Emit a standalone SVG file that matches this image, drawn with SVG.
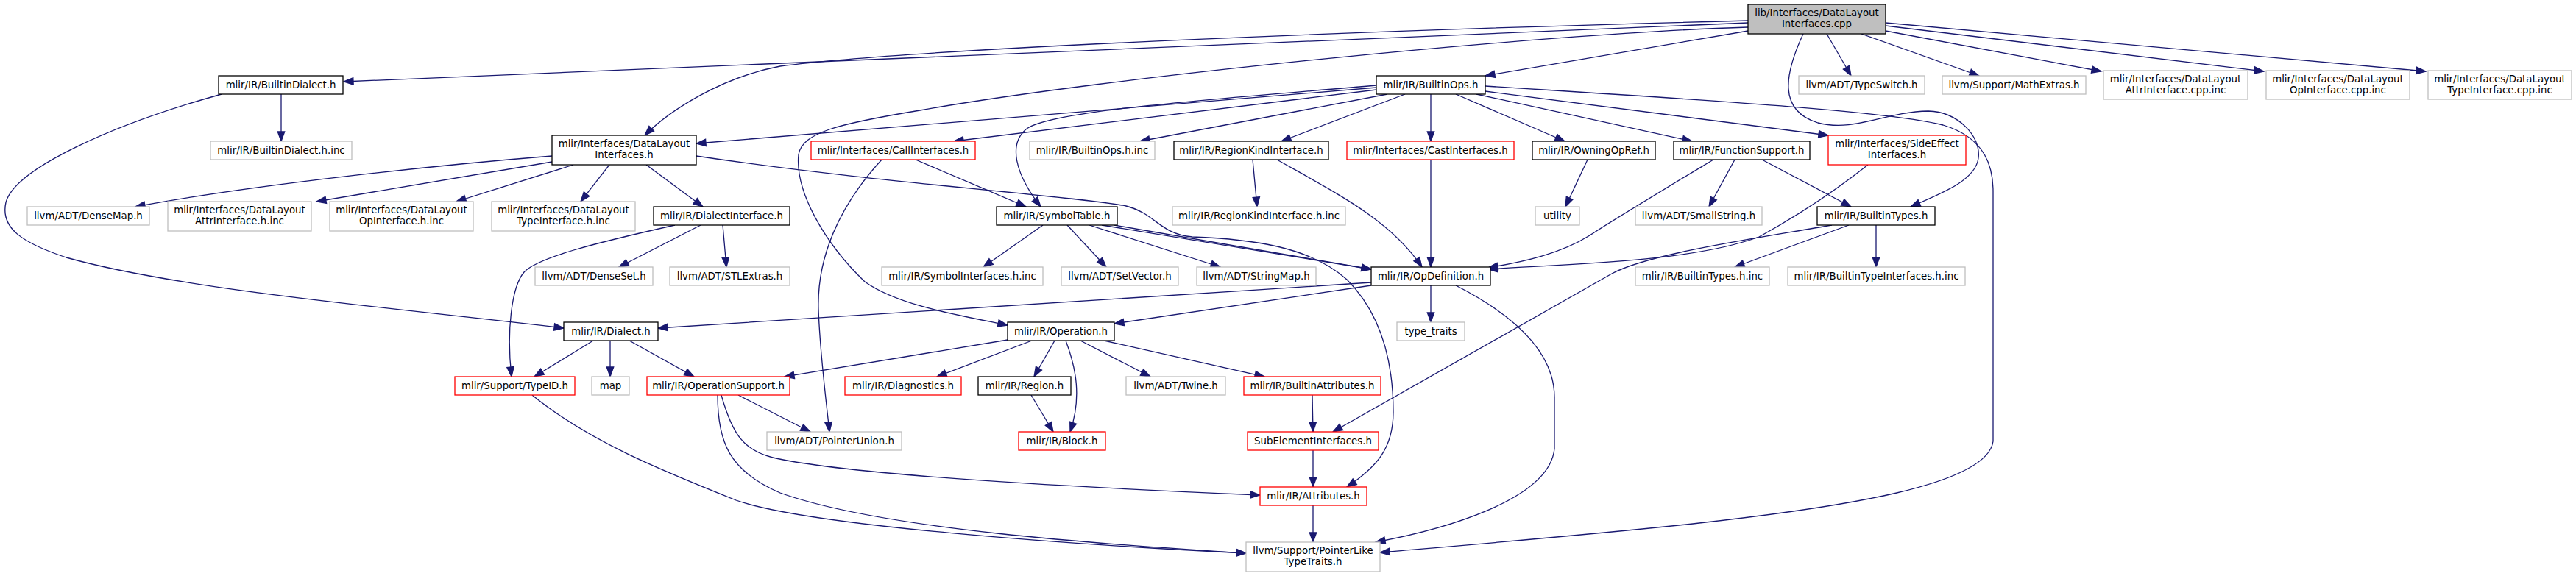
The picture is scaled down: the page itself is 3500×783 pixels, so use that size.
<svg xmlns="http://www.w3.org/2000/svg" width="3500" height="783" viewBox="0 0 3500 783">
<style>
.n rect{fill:#fff;stroke:#000;stroke-width:1.3}
.g rect{stroke:#bfbfbf}
.r rect{stroke:#ff0000}
.root rect{fill:#bfbfbf}
text{font-family:"DejaVu Sans","Liberation Sans",sans-serif;font-size:13.33px;text-anchor:middle;fill:#000}
.e path{fill:none;stroke:#191970;stroke-width:1.3;marker-end:url(#a)}
</style>
<defs>
<marker id="a" markerUnits="userSpaceOnUse" markerWidth="14" markerHeight="10" refX="13" refY="4.7" orient="auto" overflow="visible">
<path d="M0,0 L13,4.7 L0,9.4z" fill="#191970" stroke="#191970" stroke-width="1.3"/>
</marker>
</defs>
<rect width="3500" height="783" fill="#fff"/>
<g class="e" id="edges">
<path d="M2375,31 L467,111"/>
<path d="M2375,28 C1900,40 1250,65 1060,90 C980,105 910,150 876,184"/>
<path d="M2375,42 L2018,103"/>
<path d="M2375,37 C2100,45 1500,105 1250,150 C1140,168 1090,180 1085,210 C1080,260 1120,330 1175,383 C1220,415 1300,428 1369,442"/>
<path d="M2482,46 L2515,103"/>
<path d="M2529,46 L2689,103"/>
<path d="M2562,42 L2855,97"/>
<path d="M2562,35 L3076,97"/>
<path d="M2562,31 L3296,97"/>
<path d="M2450,46 C2425,100 2415,150 2470,167 C2520,180 2560,152 2620,151 C2660,152 2692,185 2688,215 C2684,245 2640,262 2596,281"/>
<path d="M1870,119 L946,195"/>
<path d="M1870,122 L1296,192"/>
<path d="M1870,116 C1650,135 1430,150 1395,175 C1370,195 1378,235 1414,281"/>
<path d="M1885,128 L1549,192"/>
<path d="M1909,128 L1741,192"/>
<path d="M1944,128 L1944,192"/>
<path d="M1978,128 L2126,192"/>
<path d="M2006,128 L2299,192"/>
<path d="M2018,124 L2484,184"/>
<path d="M2018,117 C2300,135 2560,150 2640,170 C2700,188 2708,230 2708,260 L2708,600 C2700,660 2500,690 2300,712 C2150,728 1980,742 1875,751"/>
<path d="M382,128 L382,192"/>
<path d="M301,128 C150,170 20,230 8,275 C0,310 30,330 90,350 C250,395 550,420 766,446"/>
<path d="M750,212 C600,224 350,250 184,281"/>
<path d="M750,220 L430,274"/>
<path d="M779,224 L620,274"/>
<path d="M828,224 L789,274"/>
<path d="M878,224 L955,281"/>
<path d="M946,212 C1200,250 1450,265 1530,280 C1570,290 1575,318 1620,322 C1700,325 1780,335 1830,380 C1880,430 1893,500 1893,560 C1893,610 1870,635 1830,662"/>
<path d="M1417,306 L1336,363"/>
<path d="M1450,306 L1503,363"/>
<path d="M1480,306 L1658,363"/>
<path d="M1497,306 L1863,366"/>
<path d="M1514,306 L1863,366"/>
<path d="M1244,217 L1394,281"/>
<path d="M1198,217 C1140,280 1110,350 1112,420 C1114,480 1122,540 1127,587"/>
<path d="M1702,217 L1708,281"/>
<path d="M1735,217 C1820,265 1890,300 1932,363"/>
<path d="M1944,217 L1944,363"/>
<path d="M2157,217 L2127,281"/>
<path d="M2328,217 C2240,270 2190,300 2160,320 C2120,345 2070,356 2022,364"/>
<path d="M2357,217 L2322,281"/>
<path d="M2394,217 L2515,281"/>
<path d="M2538,224 C2480,270 2430,300 2390,322 C2300,355 2150,358 2022,366"/>
<path d="M2512,306 L2357,363"/>
<path d="M2549,306 L2549,363"/>
<path d="M2489,306 C2380,325 2240,345 2190,372 L1811,587"/>
<path d="M1863,388 L1514,440"/>
<path d="M1863,384 C1500,408 1100,430 894,446"/>
<path d="M1944,388 L1944,438"/>
<path d="M1978,388 C2060,430 2112,480 2112,540 L2112,610 C2105,680 1960,720 1869,737"/>
<path d="M1369,462 L1066,512"/>
<path d="M1402,463 L1273,512"/>
<path d="M1433,463 L1405,512"/>
<path d="M1448,463 C1462,500 1470,540 1454,587"/>
<path d="M1468,463 L1563,512"/>
<path d="M1500,463 L1718,512"/>
<path d="M1401,537 L1431,587"/>
<path d="M1783,537 L1784,587"/>
<path d="M1784,612 L1784,662"/>
<path d="M1784,687 L1784,737"/>
<path d="M1003,537 L1101,587"/>
<path d="M980,537 C995,590 1010,612 1050,622 C1150,645 1450,662 1712,673"/>
<path d="M975,537 C975,600 990,640 1060,670 C1200,720 1500,740 1693,752"/>
<path d="M723,537 C800,600 900,640 1000,680 C1100,715 1450,740 1693,752"/>
<path d="M806,463 L726,512"/>
<path d="M829,463 L829,512"/>
<path d="M855,463 L943,512"/>
<path d="M917,306 C810,330 730,350 712,370 C695,390 688,450 695,512"/>
<path d="M952,306 L841,363"/>
<path d="M982,306 L987,363"/>
</g>
<g id="n_root" class="n root"><rect x="2375" y="6" width="187" height="40"/><text x="2468.5" y="22">lib/Interfaces/DataLayout</text><text x="2468.5" y="37">Interfaces.cpp</text></g>
<g id="n_BuiltinDialect" class="n"><rect x="297" y="103" width="169" height="25"/><text x="381.5" y="120">mlir/IR/BuiltinDialect.h</text></g>
<g id="n_DataLayoutInterfaces" class="n"><rect x="750" y="184" width="196" height="40"/><text x="848" y="200">mlir/Interfaces/DataLayout</text><text x="848" y="215">Interfaces.h</text></g>
<g id="n_BuiltinOps" class="n"><rect x="1870" y="103" width="148" height="25"/><text x="1944" y="120">mlir/IR/BuiltinOps.h</text></g>
<g id="n_Operation" class="n"><rect x="1369" y="438" width="145" height="25"/><text x="1441.5" y="455">mlir/IR/Operation.h</text></g>
<g id="n_TypeSwitch" class="n g"><rect x="2444" y="103" width="171" height="25"/><text x="2529.5" y="120">llvm/ADT/TypeSwitch.h</text></g>
<g id="n_MathExtras" class="n g"><rect x="2639" y="103" width="195" height="25"/><text x="2736.5" y="120">llvm/Support/MathExtras.h</text></g>
<g id="n_AttrCppInc" class="n g"><rect x="2858" y="96" width="196" height="39"/><text x="2956" y="111.5">mlir/Interfaces/DataLayout</text><text x="2956" y="126.5">AttrInterface.cpp.inc</text></g>
<g id="n_OpCppInc" class="n g"><rect x="3079" y="96" width="195" height="39"/><text x="3176.5" y="111.5">mlir/Interfaces/DataLayout</text><text x="3176.5" y="126.5">OpInterface.cpp.inc</text></g>
<g id="n_TypeCppInc" class="n g"><rect x="3299" y="96" width="195" height="39"/><text x="3396.5" y="111.5">mlir/Interfaces/DataLayout</text><text x="3396.5" y="126.5">TypeInterface.cpp.inc</text></g>
<g id="n_BuiltinDialectInc" class="n g"><rect x="286" y="192" width="192" height="25"/><text x="382" y="209">mlir/IR/BuiltinDialect.h.inc</text></g>
<g id="n_CallInterfaces" class="n r"><rect x="1102" y="192" width="223" height="25"/><text x="1213.5" y="209">mlir/Interfaces/CallInterfaces.h</text></g>
<g id="n_BuiltinOpsInc" class="n g"><rect x="1399" y="192" width="170" height="25"/><text x="1484" y="209">mlir/IR/BuiltinOps.h.inc</text></g>
<g id="n_RegionKindInterface" class="n"><rect x="1595" y="192" width="210" height="25"/><text x="1700" y="209">mlir/IR/RegionKindInterface.h</text></g>
<g id="n_CastInterfaces" class="n r"><rect x="1830" y="192" width="227" height="25"/><text x="1943.5" y="209">mlir/Interfaces/CastInterfaces.h</text></g>
<g id="n_OwningOpRef" class="n"><rect x="2082" y="192" width="167" height="25"/><text x="2165.5" y="209">mlir/IR/OwningOpRef.h</text></g>
<g id="n_FunctionSupport" class="n"><rect x="2274" y="192" width="185" height="25"/><text x="2366.5" y="209">mlir/IR/FunctionSupport.h</text></g>
<g id="n_SideEffectInterfaces" class="n r"><rect x="2484" y="184" width="187" height="40"/><text x="2577.5" y="200">mlir/Interfaces/SideEffect</text><text x="2577.5" y="215">Interfaces.h</text></g>
<g id="n_DenseMap" class="n g"><rect x="37" y="281" width="166" height="25"/><text x="120" y="298">llvm/ADT/DenseMap.h</text></g>
<g id="n_AttrHInc" class="n g"><rect x="228" y="274" width="195" height="40"/><text x="325.5" y="290">mlir/Interfaces/DataLayout</text><text x="325.5" y="305">AttrInterface.h.inc</text></g>
<g id="n_OpHInc" class="n g"><rect x="448" y="274" width="195" height="40"/><text x="545.5" y="290">mlir/Interfaces/DataLayout</text><text x="545.5" y="305">OpInterface.h.inc</text></g>
<g id="n_TypeHInc" class="n g"><rect x="668" y="274" width="195" height="40"/><text x="765.5" y="290">mlir/Interfaces/DataLayout</text><text x="765.5" y="305">TypeInterface.h.inc</text></g>
<g id="n_DialectInterface" class="n"><rect x="888" y="281" width="185" height="25"/><text x="980.5" y="298">mlir/IR/DialectInterface.h</text></g>
<g id="n_SymbolTable" class="n"><rect x="1354" y="281" width="164" height="25"/><text x="1436" y="298">mlir/IR/SymbolTable.h</text></g>
<g id="n_RegionKindInterfaceInc" class="n g"><rect x="1593" y="281" width="235" height="25"/><text x="1710.5" y="298">mlir/IR/RegionKindInterface.h.inc</text></g>
<g id="n_utility" class="n g"><rect x="2086" y="281" width="60" height="25"/><text x="2116" y="298">utility</text></g>
<g id="n_SmallString" class="n g"><rect x="2222" y="281" width="172" height="25"/><text x="2308" y="298">llvm/ADT/SmallString.h</text></g>
<g id="n_BuiltinTypes" class="n"><rect x="2469" y="281" width="160" height="25"/><text x="2549" y="298">mlir/IR/BuiltinTypes.h</text></g>
<g id="n_DenseSet" class="n g"><rect x="727" y="363" width="160" height="25"/><text x="807" y="380">llvm/ADT/DenseSet.h</text></g>
<g id="n_STLExtras" class="n g"><rect x="910" y="363" width="163" height="25"/><text x="991.5" y="380">llvm/ADT/STLExtras.h</text></g>
<g id="n_SymbolInterfacesInc" class="n g"><rect x="1198" y="363" width="219" height="25"/><text x="1307.5" y="380">mlir/IR/SymbolInterfaces.h.inc</text></g>
<g id="n_SetVector" class="n g"><rect x="1442" y="363" width="159" height="25"/><text x="1521.5" y="380">llvm/ADT/SetVector.h</text></g>
<g id="n_StringMap" class="n g"><rect x="1626" y="363" width="162" height="25"/><text x="1707" y="380">llvm/ADT/StringMap.h</text></g>
<g id="n_OpDefinition" class="n"><rect x="1863" y="363" width="162" height="25"/><text x="1944" y="380">mlir/IR/OpDefinition.h</text></g>
<g id="n_BuiltinTypesInc" class="n g"><rect x="2222" y="363" width="182" height="25"/><text x="2313" y="380">mlir/IR/BuiltinTypes.h.inc</text></g>
<g id="n_BuiltinTypeInterfacesInc" class="n g"><rect x="2429" y="363" width="241" height="25"/><text x="2549.5" y="380">mlir/IR/BuiltinTypeInterfaces.h.inc</text></g>
<g id="n_Dialect" class="n"><rect x="766" y="438" width="128" height="25"/><text x="830" y="455">mlir/IR/Dialect.h</text></g>
<g id="n_type_traits" class="n g"><rect x="1898" y="438" width="92" height="25"/><text x="1944" y="455">type_traits</text></g>
<g id="n_TypeID" class="n r"><rect x="618" y="512" width="163" height="25"/><text x="699.5" y="529">mlir/Support/TypeID.h</text></g>
<g id="n_map" class="n g"><rect x="804" y="512" width="51" height="25"/><text x="829.5" y="529">map</text></g>
<g id="n_OperationSupport" class="n r"><rect x="879" y="512" width="194" height="25"/><text x="976" y="529">mlir/IR/OperationSupport.h</text></g>
<g id="n_Diagnostics" class="n r"><rect x="1148" y="512" width="158" height="25"/><text x="1227" y="529">mlir/IR/Diagnostics.h</text></g>
<g id="n_Region" class="n"><rect x="1329" y="512" width="126" height="25"/><text x="1392" y="529">mlir/IR/Region.h</text></g>
<g id="n_Twine" class="n g"><rect x="1530" y="512" width="135" height="25"/><text x="1597.5" y="529">llvm/ADT/Twine.h</text></g>
<g id="n_BuiltinAttributes" class="n r"><rect x="1690" y="512" width="186" height="25"/><text x="1783" y="529">mlir/IR/BuiltinAttributes.h</text></g>
<g id="n_PointerUnion" class="n g"><rect x="1042" y="587" width="183" height="25"/><text x="1133.5" y="604">llvm/ADT/PointerUnion.h</text></g>
<g id="n_Block" class="n r"><rect x="1384" y="587" width="118" height="25"/><text x="1443" y="604">mlir/IR/Block.h</text></g>
<g id="n_SubElementInterfaces" class="n r"><rect x="1695" y="587" width="178" height="25"/><text x="1784" y="604">SubElementInterfaces.h</text></g>
<g id="n_Attributes" class="n r"><rect x="1712" y="662" width="145" height="25"/><text x="1784.5" y="679">mlir/IR/Attributes.h</text></g>
<g id="n_PointerLikeTypeTraits" class="n g"><rect x="1693" y="737" width="182" height="40"/><text x="1784" y="753">llvm/Support/PointerLike</text><text x="1784" y="768">TypeTraits.h</text></g>
</svg>
